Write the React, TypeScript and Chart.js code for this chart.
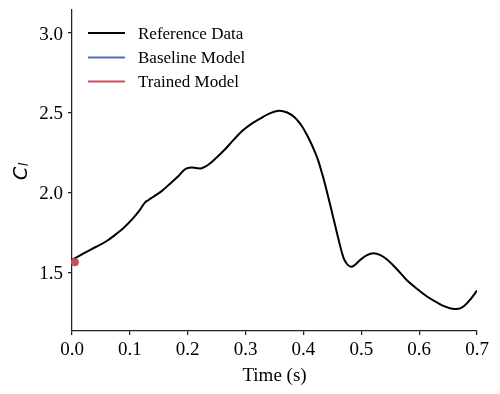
import React, { useEffect, useRef } from "react";
import { Chart, registerables } from "chart.js";

Chart.register(...registerables);

// ---- data ----
const times = [
  0, 0.008, 0.02, 0.04, 0.06, 0.075, 0.09, 0.105, 0.118, 0.126, 0.133, 0.14, 0.155, 0.17,
  0.185, 0.196, 0.206, 0.216, 0.224, 0.235, 0.25, 0.265, 0.28, 0.295, 0.31, 0.325, 0.34,
  0.357, 0.372, 0.385, 0.396, 0.405, 0.414, 0.42, 0.426, 0.432, 0.437, 0.449, 0.46, 0.469,
  0.475, 0.481, 0.488, 0.497, 0.51, 0.521, 0.533, 0.545, 0.56, 0.578, 0.595, 0.613, 0.63,
  0.645, 0.66, 0.672, 0.685, 0.7,
];
const clReference = [
  1.582, 1.598, 1.622, 1.661, 1.7, 1.74, 1.785, 1.84, 1.898, 1.94, 1.958, 1.975, 2.012,
  2.06, 2.11, 2.15, 2.16, 2.155, 2.155, 2.175, 2.222, 2.275, 2.335, 2.39, 2.432, 2.465,
  2.495, 2.514, 2.503, 2.472, 2.425, 2.37, 2.305, 2.255, 2.198, 2.125, 2.06, 1.885, 1.72,
  1.598, 1.558, 1.54, 1.548, 1.578, 1.612, 1.623, 1.612, 1.583, 1.53, 1.458, 1.405, 1.355,
  1.318, 1.29, 1.275, 1.28, 1.32, 1.39,
];
const baselineTimes: number[] = [];
const clBaseline: number[] = [];
const trainedTimes = [0.005];
const clTrained = [1.567];

const xTicks = [0, 0.1, 0.2, 0.3, 0.4, 0.5, 0.6, 0.7];
const yTicks = [1.5, 2.0, 2.5, 3.0];
const xRange = [0, 0.7];
const yRange = [1.1375, 3.147];

const seriesLabels = ["Reference Data", "Baseline Model", "Trained Model"];
const seriesColors = ["#000000", "#4C72B0", "#C94F5A"];

const SERIF = '"Liberation Serif", "Times New Roman", serif';

const overlayPlugin = {
  id: "overlay",
  afterDraw(chart: any) {
    const ctx = chart.ctx as CanvasRenderingContext2D;
    const area = chart.chartArea;
    ctx.save();
    // legend
    const lx0 = area.left + 16;
    const lx1 = lx0 + 37;
    const tx = lx1 + 13;
    const rowY = [area.top + 23.5, area.top + 48, area.top + 72];
    ctx.font = `17px ${SERIF}`;
    ctx.textBaseline = "middle";
    ctx.textAlign = "left";
    seriesLabels.forEach((label, i) => {
      ctx.strokeStyle = seriesColors[i];
      ctx.lineWidth = 2;
      ctx.beginPath();
      ctx.moveTo(lx0, rowY[i]);
      ctx.lineTo(lx1, rowY[i]);
      ctx.stroke();
      ctx.fillStyle = "#000";
      ctx.fillText(label, tx, rowY[i] + 1.5);
    });
    // y-axis label C_l
    ctx.translate(26.5, 180);
    ctx.rotate(-Math.PI / 2);
    ctx.textBaseline = "alphabetic";
    ctx.fillStyle = "#000";
    ctx.font = 'italic 19px "DejaVu Sans"';
    ctx.fillText("C", 0, 0);
    const w = ctx.measureText("C").width;
    ctx.font = 'italic 13px "DejaVu Sans"';
    ctx.fillText("l", w + 0.5, 1.5);
    ctx.restore();
  },
};

export default function App() {
  const canvasRef = useRef<HTMLCanvasElement>(null);

  useEffect(() => {
    document.body.style.margin = "0";
    const canvas = canvasRef.current!;
    const chart = new Chart(canvas, {
      type: "line",
      data: {
        datasets: [
          {
            label: seriesLabels[0],
            data: times.map((t, i) => ({ x: t, y: clReference[i] })),
            borderColor: seriesColors[0],
            backgroundColor: seriesColors[0],
            borderWidth: 2,
            pointRadius: 0,
            tension: 0.4,
            order: 2,
          },
          {
            label: seriesLabels[1],
            data: baselineTimes.map((t, i) => ({ x: t, y: clBaseline[i] })),
            borderColor: seriesColors[1],
            backgroundColor: seriesColors[1],
            borderWidth: 2,
            pointRadius: 0,
            order: 1,
          },
          {
            label: seriesLabels[2],
            data: trainedTimes.map((t, i) => ({ x: t, y: clTrained[i] })),
            borderColor: seriesColors[2],
            backgroundColor: seriesColors[2],
            showLine: false,
            pointRadius: 4,
            pointBorderWidth: 0,
            clip: false as any,
            order: 0,
          },
        ],
      },
      options: {
        responsive: false,
        animation: false,
        devicePixelRatio: 1,
        events: [],
        layout: { padding: 0 },
        plugins: {
          legend: { display: false },
          tooltip: { enabled: false },
        },
        scales: {
          x: {
            type: "linear",
            min: xRange[0],
            max: xRange[1],
            afterBuildTicks: (s: any) => {
              s.ticks = xTicks.map((v) => ({ value: v }));
            },
            afterFit: (s: any) => {
              s.height = 63;
              s.paddingLeft = 0;
              s.paddingRight = 23;
            },
            ticks: {
              callback: (v: any) => Number(v).toFixed(1),
              font: { family: SERIF, size: 19 },
              color: "#000",
              padding: 4,
              maxRotation: 0,
              autoSkip: false,
            },
            grid: {
              display: true,
              drawOnChartArea: false,
              drawTicks: true,
              tickLength: 4,
              color: "#222",
              lineWidth: 1.25,
            },
            border: { display: true, color: "#222", width: 1.25 },
            title: {
              display: true,
              text: "Time (s)",
              font: { family: SERIF, size: 19 },
              color: "#000",
              padding: { top: 0, bottom: 7 },
            },
          },
          y: {
            type: "linear",
            min: yRange[0],
            max: yRange[1],
            afterBuildTicks: (s: any) => {
              s.ticks = yTicks.map((v) => ({ value: v }));
            },
            afterFit: (s: any) => {
              s.width = 72;
              s.paddingTop = 9.5;
              s.paddingBottom = 0;
            },
            ticks: {
              callback: (v: any) => Number(v).toFixed(1),
              font: { family: SERIF, size: 19 },
              color: "#000",
              padding: 5,
              labelOffset: 1.5,
              autoSkip: false,
            },
            grid: {
              display: true,
              drawOnChartArea: false,
              drawTicks: true,
              tickLength: 4,
              color: "#222",
              lineWidth: 1.25,
            },
            border: { display: true, color: "#222", width: 1.25 },
          },
        },
      },
      plugins: [overlayPlugin],
    } as any);
    return () => chart.destroy();
  }, []);

  return (
    <div style={{ width: 500, height: 394 }}>
      <canvas ref={canvasRef} width={500} height={394} style={{ display: "block" }} />
    </div>
  );
}
